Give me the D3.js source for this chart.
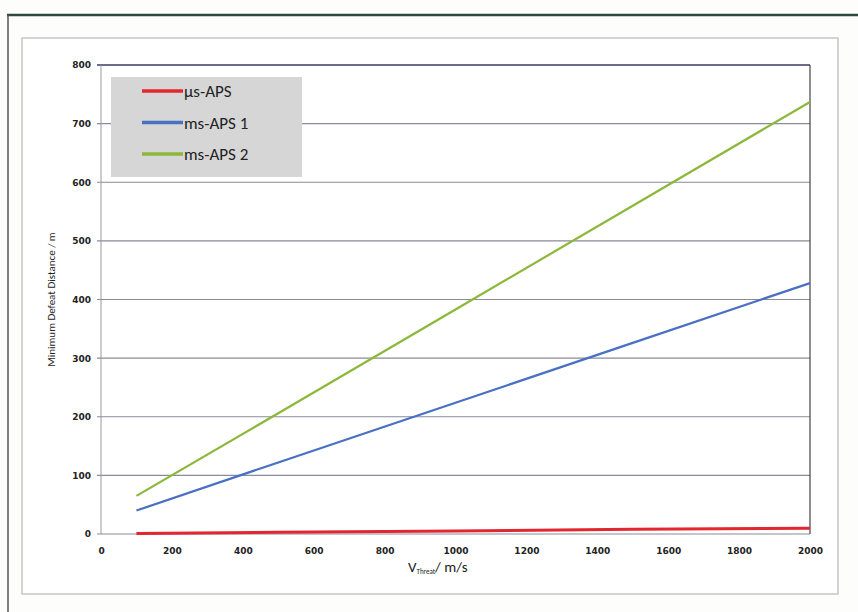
<!DOCTYPE html>
<html>
<head>
<meta charset="utf-8">
<script src="https://cdn.jsdelivr.net/npm/d3@7"></script>
<style>
  body { margin: 0; background: #fff; }
  svg { display: block; font-family: Calibri, Carlito, "Open Sans", "Liberation Sans", sans-serif; }
</style>
</head>
<body>
<div id="chart"></div>
<script>
// speeds in m/s
var speeds = [100, 500, 1000, 1500, 2000];
// minimum defeat distance in m
var usAps = [1, 3, 5, 8, 10];
var msAps1 = [40, 122, 224, 326, 428];
var msAps2 = [65, 206, 383, 560, 737];

var seriesNames = ["µs-APS", "ms-APS 1", "ms-APS 2"];
var seriesColors = ["#e3262f", "#4a70c2", "#8cb83a"];
var xTicks = [0, 200, 400, 600, 800, 1000, 1200, 1400, 1600, 1800, 2000];
var yTicks = [0, 100, 200, 300, 400, 500, 600, 700, 800];

function init() {
    var w = 858, h = 612;
    var left = 101, right = 810, top = 65, bottom = 534;

    var svg = d3.select("#chart").append("svg")
        .attr("width", w)
        .attr("height", h);

    // scanned page frame
    svg.append("rect").attr("x", 0).attr("y", 0).attr("width", w).attr("height", h).attr("fill", "#fdfdfb");
    svg.append("line").attr("x1", 7).attr("x2", w).attr("y1", 15).attr("y2", 15)
        .attr("stroke", "#2f4a3c").attr("stroke-width", 2.5);
    svg.append("line").attr("x1", 8).attr("x2", 8).attr("y1", 15).attr("y2", h)
        .attr("stroke", "#555").attr("stroke-width", 1.5);
    svg.append("rect").attr("x", 22).attr("y", 38).attr("width", 816).attr("height", 556)
        .attr("fill", "#fff").attr("stroke", "#b8b8b8").attr("stroke-width", 1.2);

    var xScale = d3.scaleLinear().domain([0, 2000]).range([left, right]);
    var yScale = d3.scaleLinear().domain([0, 800]).range([bottom, top]);

    // gridlines
    svg.append("g").selectAll("line")
        .data(yTicks)
        .enter()
        .append("line")
        .attr("x1", left - 4)
        .attr("x2", right)
        .attr("y1", function(d) { return yScale(d); })
        .attr("y2", function(d) { return yScale(d); })
        .attr("stroke", function(d) { return d == 800 ? "#3a3a66" : "#8a8a9a"; })
        .attr("stroke-width", function(d) { return d == 800 ? 1.6 : 1.1; });

    // plot border (left and right)
    svg.append("line").attr("x1", left).attr("x2", left).attr("y1", top).attr("y2", bottom)
        .attr("stroke", "#999").attr("stroke-width", 1);
    svg.append("line").attr("x1", right).attr("x2", right).attr("y1", top).attr("y2", bottom)
        .attr("stroke", "#444").attr("stroke-width", 1.2);

    var yAxis = d3.axisLeft(yScale).tickValues(yTicks).tickSize(0).tickPadding(10).tickFormat(d3.format("d"));
    var xAxis = d3.axisBottom(xScale).tickValues(xTicks).tickSize(0).tickPadding(14).tickFormat(d3.format("d"));

    var gy = svg.append("g").attr("transform", "translate(" + left + ",0)").call(yAxis);
    var gx = svg.append("g").attr("transform", "translate(0," + bottom + ")").call(xAxis);
    [gx, gy].forEach(function(g) {
        g.select(".domain").remove();
        g.selectAll("text").attr("font-size", 9).attr("font-weight", "bold")
            .attr("fill", "#222").attr("font-family", "DejaVu Sans, sans-serif");
    });

    var line = d3.line()
        .x(function(d) { return xScale(d[0]); })
        .y(function(d) { return yScale(d[1]); });

    var allSeries = [msAps2, msAps1, usAps];
    var colorOrder = [seriesColors[2], seriesColors[1], seriesColors[0]];
    allSeries.forEach(function(vals, i) {
        svg.append("path")
            .datum(speeds.map(function(s, j) { return [s, vals[j]]; }))
            .attr("d", line)
            .attr("fill", "none")
            .attr("stroke", colorOrder[i])
            .attr("stroke-width", i == 2 ? 3 : 2.2);
    });

    // legend
    var lg = svg.append("g").attr("transform", "translate(111,77)");
    lg.append("rect").attr("width", 191).attr("height", 100).attr("fill", "#d6d6d6");
    seriesNames.forEach(function(name, i) {
        var yy = 14 + i * 31.5;
        lg.append("line").attr("x1", 31).attr("x2", 72).attr("y1", yy).attr("y2", yy)
            .attr("stroke", seriesColors[i]).attr("stroke-width", 3.5);
        lg.append("text").attr("x", 73).attr("y", yy + 6).text(name)
            .attr("font-size", 17).attr("fill", "#222");
    });

    // axis titles
    svg.append("text")
        .attr("transform", "translate(55," + ((top + bottom) / 2) + ") rotate(-90)")
        .attr("text-anchor", "middle")
        .attr("font-size", 11)
        .attr("fill", "#222")
        .text("Minimum Defeat Distance / m");

    var xt = svg.append("text")
        .attr("x", 408)
        .attr("y", 572)
        .attr("font-size", 15)
        .attr("fill", "#222");
    xt.append("tspan").text("V");
    xt.append("tspan").attr("font-size", 7).attr("dy", 2).text("Threat");
    xt.append("tspan").attr("dy", -2).text("/ m/s");
}

window.onload = init();
</script>
</body>
</html>
